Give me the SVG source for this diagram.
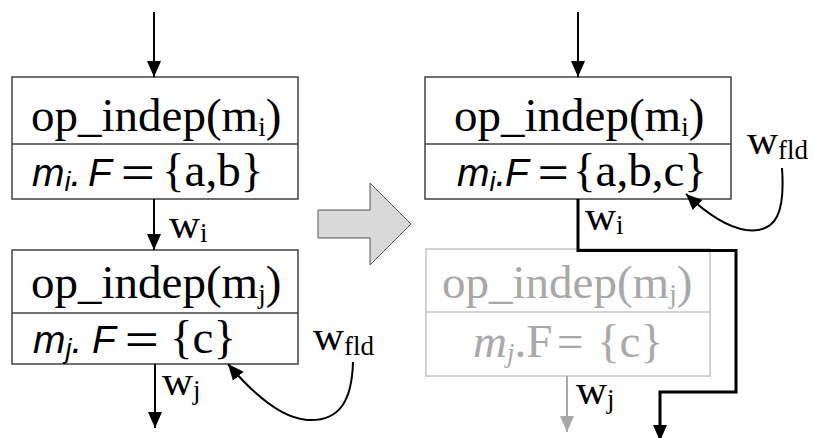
<svg xmlns="http://www.w3.org/2000/svg" width="814" height="438" viewBox="0 0 814 438">
<style>
.box{fill:#fff;stroke:#404040;stroke-width:1.5}
.gbox{fill:#fff;stroke:#c4c4c4;stroke-width:1.5}
.div{stroke:#404040;stroke-width:1.5}
.gdiv{stroke:#c4c4c4;stroke-width:1.5}
.t{font-family:"Liberation Serif",serif;font-size:47px;fill:#000}
.g{fill:#a8a8a8}
.s{font-family:"Liberation Sans",sans-serif;font-style:italic;font-size:39px;fill:#000}
.sub{font-size:27px}
.w{font-family:"Liberation Serif",serif;font-size:43px;fill:#000}
.ln{fill:none;stroke:#000;stroke-width:2}
.gln{fill:none;stroke:#a8a8a8;stroke-width:2}
</style>
<defs>
<marker id="ah" markerUnits="userSpaceOnUse" markerWidth="16" markerHeight="16" refX="16" refY="8" orient="auto" viewBox="0 0 16 16"><path d="M0,1 L16,8 L0,15 Z" fill="#000"/></marker>
<marker id="gah" markerUnits="userSpaceOnUse" markerWidth="16" markerHeight="16" refX="16" refY="8" orient="auto" viewBox="0 0 16 16"><path d="M0,1 L16,8 L0,15 Z" fill="#a8a8a8"/></marker>
</defs>

<g id="transform-arrow">
<polygon points="318,210 370,210 370,183 411,224 370,265 370,238 318,238" fill="#d9d9d9" stroke="#555" stroke-width="1"/>
</g>

<g id="node-mi-left">
<rect class="box" x="12" y="77" width="286" height="122"/>
<line class="div" x1="12" y1="144" x2="298" y2="144"/>
<text class="t" x="31" y="131">op_indep(m<tspan class="sub" dy="5">i</tspan><tspan dy="-5">)</tspan></text>
<text class="s" x="32" y="186">m<tspan class="sub" dy="5">i</tspan><tspan dy="-5">.</tspan></text>
<text class="s" x="88" y="186">F</text>
<text class="s" x="120" y="186" textLength="34" lengthAdjust="spacingAndGlyphs">=</text>
<text class="t" x="162" y="186">{a,b}</text>
</g>

<g id="node-mj-left">
<rect class="box" x="12" y="250" width="286" height="114"/>
<line class="div" x1="12" y1="313" x2="298" y2="313"/>
<text class="t" x="31" y="298">op_indep(m<tspan class="sub" dy="5">j</tspan><tspan dy="-5">)</tspan></text>
<text class="s" x="33" y="353">m<tspan class="sub" dy="5">j</tspan><tspan dy="-5">.</tspan></text>
<text class="s" x="92" y="353">F</text>
<text class="s" x="124" y="353" textLength="34" lengthAdjust="spacingAndGlyphs">=</text>
<text class="t" x="170" y="353">{c}</text>
</g>

<g id="node-mi-right">
<rect class="box" x="425" y="77" width="306" height="122"/>
<line class="div" x1="425" y1="144" x2="731" y2="144"/>
<text class="t" x="454" y="131">op_indep(m<tspan class="sub" dy="5">i</tspan><tspan dy="-5">)</tspan></text>
<text class="s" x="457" y="186">m<tspan class="sub" dy="5">i</tspan><tspan dy="-5">.</tspan></text>
<text class="s" x="505" y="186">F</text>
<text class="s" x="537" y="186" textLength="31" lengthAdjust="spacingAndGlyphs">=</text>
<text class="t" x="573" y="186">{a,b,c}</text>
</g>

<g id="node-mj-right-faded">
<rect class="gbox" x="426" y="249" width="284" height="127"/>
<line class="gdiv" x1="426" y1="312" x2="710" y2="312"/>
<text class="t g" x="442" y="298">op_indep(m<tspan class="sub" dy="5">j</tspan><tspan dy="-5">)</tspan></text>
<text class="t g" x="473" y="357"><tspan font-style="italic">m</tspan><tspan class="sub" font-style="italic" dy="5">j</tspan><tspan dy="-5">.F</tspan></text>
<text class="t g" x="557" y="357">=</text>
<text class="t g" x="597" y="357">{c}</text>
</g>

<g id="connectors">
<line class="ln" x1="154" y1="12" x2="154" y2="77" marker-end="url(#ah)"/>
<line class="ln" x1="154" y1="199" x2="154" y2="250" marker-end="url(#ah)"/>
<line class="ln" x1="155" y1="364" x2="155" y2="428" marker-end="url(#ah)"/>
<path class="ln" d="M353,362 C352,400 340,422 307,420 C282,418 255,396 228,364" marker-end="url(#ah)"/>
<line class="ln" x1="578" y1="12" x2="578" y2="77" marker-end="url(#ah)"/>
<path class="ln" d="M782,168 C785,210 778,234 746,230 C726,227 706,213 686,194" marker-end="url(#ah)"/>
<path class="ln" style="stroke-width:3" d="M578,199 V250.5 H736 V392 H660 V441" marker-end="url(#ah)"/>
<line class="gln" x1="567" y1="376" x2="567" y2="432" marker-end="url(#gah)"/>
</g>

<g id="labels">
<text class="w" x="169" y="238">w<tspan class="sub" dy="4">i</tspan></text>
<text class="w" x="162" y="395">w<tspan class="sub" dy="4">j</tspan></text>
<text class="w" x="313" y="350">w<tspan class="sub" dy="5">fld</tspan></text>
<text class="w" x="747" y="154">w<tspan class="sub" dy="5">fld</tspan></text>
<text class="w" x="585" y="230">w<tspan class="sub" dy="4">i</tspan></text>
<text class="w g" x="576" y="404">w<tspan class="sub" dy="4">j</tspan></text>
</g>
</svg>
